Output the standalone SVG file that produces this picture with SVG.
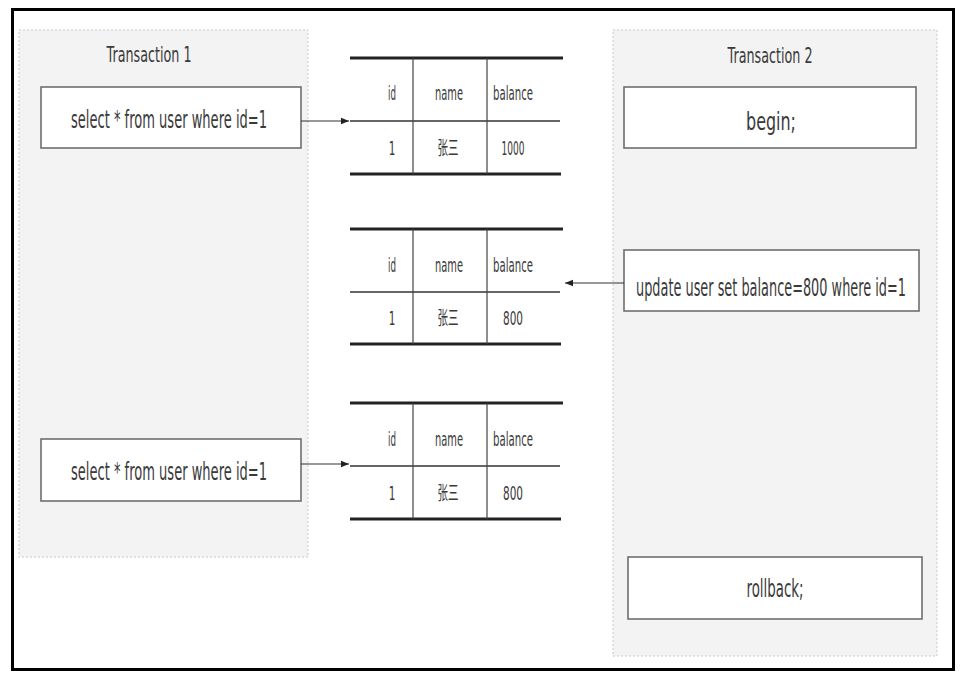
<svg xmlns="http://www.w3.org/2000/svg" width="980" height="688" viewBox="0 0 980 688">
<style>
.panel{fill:#f3f3f3;stroke:#c8c8c8;stroke-width:1;stroke-dasharray:2 2}
.box{fill:#ffffff;stroke:#6e6e6e;stroke-width:1.6}
.t{font-family:"DejaVu Sans","Noto Sans CJK SC",sans-serif;fill:#3a3a3a;text-anchor:middle}
.title{font-size:21px}
.bt{font-size:24px}
.tt{font-size:19px}
.thick{stroke:#222;stroke-width:3}
.mid{stroke:#333;stroke-width:1.5}
.vl{stroke:#444;stroke-width:1.2}
.conn{stroke:#333;stroke-width:1.2;fill:none}
</style>
<defs>
<marker id="arr" viewBox="0 0 10 10" refX="10" refY="5" markerWidth="8" markerHeight="8" markerUnits="userSpaceOnUse" orient="auto">
<path d="M0,1 L10,5 L0,9 z" fill="#222"/>
</marker>
</defs>
<rect x="0" y="0" width="980" height="688" fill="#ffffff"/>
<rect x="12.5" y="9.5" width="941" height="660" fill="none" stroke="#000" stroke-width="3"/>

<g id="transaction1">
<rect class="panel" x="19" y="30" width="289" height="527"/>
<text class="t title" transform="translate(149,62) scale(0.6,1)" textLength="141.7" lengthAdjust="spacingAndGlyphs">Transaction 1</text>
</g>
<g id="transaction2">
<rect class="panel" x="613" y="30" width="324" height="626"/>
<text class="t title" transform="translate(770,63) scale(0.6,1)" textLength="141.7" lengthAdjust="spacingAndGlyphs">Transaction 2</text>
</g>

<g id="select1">
<rect class="box" x="41" y="87" width="260" height="61"/>
<text class="t bt" transform="translate(169,128) scale(0.55,1)" textLength="356.4" lengthAdjust="spacingAndGlyphs">select * from user where id=1</text>
</g>
<g id="select2">
<rect class="box" x="41" y="439" width="260" height="62"/>
<text class="t bt" transform="translate(169,480) scale(0.55,1)" textLength="356.4" lengthAdjust="spacingAndGlyphs">select * from user where id=1</text>
</g>
<g id="begin">
<rect class="box" x="624" y="87" width="292" height="61"/>
<text class="t bt" transform="translate(771,130) scale(0.55,1)" textLength="90.9" lengthAdjust="spacingAndGlyphs">begin;</text>
</g>
<g id="update">
<rect class="box" x="624" y="250" width="295" height="61"/>
<text class="t bt" transform="translate(771,296) scale(0.55,1)" textLength="490.9" lengthAdjust="spacingAndGlyphs">update user set balance=800 where id=1</text>
</g>
<g id="rollback">
<rect class="box" x="628" y="557" width="294" height="62"/>
<text class="t bt" transform="translate(775,597) scale(0.55,1)" textLength="103.6" lengthAdjust="spacingAndGlyphs">rollback;</text>
</g>

<g id="table1">
<line class="thick" x1="350" y1="58" x2="563" y2="58"/>
<line class="mid" x1="350" y1="121" x2="560" y2="121"/>
<line class="thick" x1="350" y1="174" x2="561" y2="174"/>
<line class="vl" x1="413" y1="58" x2="413" y2="174"/>
<line class="vl" x1="487" y1="58" x2="487" y2="174"/>
<text class="t tt" transform="translate(392,100) scale(0.55,1)" textLength="14.5" lengthAdjust="spacingAndGlyphs">id</text>
<text class="t tt" transform="translate(449,100) scale(0.55,1)" textLength="50.9" lengthAdjust="spacingAndGlyphs">name</text>
<text class="t tt" transform="translate(513,100) scale(0.55,1)" textLength="72.7" lengthAdjust="spacingAndGlyphs">balance</text>
<text class="t tt" transform="translate(392,155) scale(0.55,1)">1</text>
<text class="t tt" transform="translate(448,155) scale(0.55,1)" textLength="38.2" lengthAdjust="spacingAndGlyphs">张三</text>
<text class="t tt" transform="translate(513,155) scale(0.55,1)" textLength="41.8" lengthAdjust="spacingAndGlyphs">1000</text>
</g>
<g id="table2">
<line class="thick" x1="350" y1="229" x2="563" y2="229"/>
<line class="mid" x1="350" y1="292" x2="560" y2="292"/>
<line class="thick" x1="350" y1="344" x2="561" y2="344"/>
<line class="vl" x1="413" y1="229" x2="413" y2="344"/>
<line class="vl" x1="487" y1="229" x2="487" y2="344"/>
<text class="t tt" transform="translate(392,272) scale(0.55,1)" textLength="14.5" lengthAdjust="spacingAndGlyphs">id</text>
<text class="t tt" transform="translate(449,272) scale(0.55,1)" textLength="50.9" lengthAdjust="spacingAndGlyphs">name</text>
<text class="t tt" transform="translate(513,272) scale(0.55,1)" textLength="72.7" lengthAdjust="spacingAndGlyphs">balance</text>
<text class="t tt" transform="translate(392,325) scale(0.55,1)">1</text>
<text class="t tt" transform="translate(448,325) scale(0.55,1)" textLength="38.2" lengthAdjust="spacingAndGlyphs">张三</text>
<text class="t tt" transform="translate(513,325) scale(0.55,1)" textLength="36.4" lengthAdjust="spacingAndGlyphs">800</text>
</g>
<g id="table3">
<line class="thick" x1="350" y1="403" x2="563" y2="403"/>
<line class="mid" x1="350" y1="466" x2="560" y2="466"/>
<line class="thick" x1="350" y1="519" x2="561" y2="519"/>
<line class="vl" x1="413" y1="403" x2="413" y2="519"/>
<line class="vl" x1="487" y1="403" x2="487" y2="519"/>
<text class="t tt" transform="translate(392,446) scale(0.55,1)" textLength="14.5" lengthAdjust="spacingAndGlyphs">id</text>
<text class="t tt" transform="translate(449,446) scale(0.55,1)" textLength="50.9" lengthAdjust="spacingAndGlyphs">name</text>
<text class="t tt" transform="translate(513,446) scale(0.55,1)" textLength="72.7" lengthAdjust="spacingAndGlyphs">balance</text>
<text class="t tt" transform="translate(392,500) scale(0.55,1)">1</text>
<text class="t tt" transform="translate(448,500) scale(0.55,1)" textLength="38.2" lengthAdjust="spacingAndGlyphs">张三</text>
<text class="t tt" transform="translate(513,500) scale(0.55,1)" textLength="36.4" lengthAdjust="spacingAndGlyphs">800</text>
</g>

<g id="connectors">
<line class="conn" x1="301" y1="121" x2="349" y2="121" marker-end="url(#arr)"/>
<line class="conn" x1="624" y1="283" x2="565" y2="283" marker-end="url(#arr)"/>
<line class="conn" x1="301" y1="464" x2="349" y2="464" marker-end="url(#arr)"/>
</g>
</svg>
